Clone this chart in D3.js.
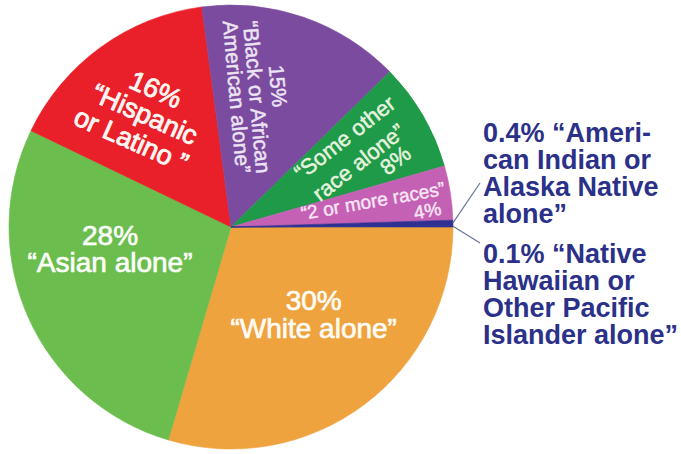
<!DOCTYPE html>
<html>
<head>
<meta charset="utf-8">
<script src="https://cdn.jsdelivr.net/npm/d3@7"></script>
<style>
  body { margin: 0; background: #fff; }
  svg { display: block; font-family: "Liberation Sans", Arial, Helvetica, sans-serif; }
</style>
</head>
<body>
<div id="chart"></div>
<script>
// data
const categories = ["White alone", "Asian alone", "Hispanic or Latino", "Black or African American alone",
  "Some other race alone", "2 or more races", "American Indian or Alaska Native alone",
  "Native Hawaiian or Other Pacific Islander alone"];
const shares = [30, 28, 16, 15, 8, 4, 0.4, 0.1];
const colors = ["#efa33f", "#6bbd4e", "#e91f29", "#7a4b9f", "#1e9a49", "#c461b4", "#2e3192", "#2e3192"];

// label text, one array of lines per slice
const labelLines = [
  ["30%", "“White alone”"],
  ["28%", "“Asian alone”"],
  ["16%", "“Hispanic", "or Latino ”"],
  ["15%", "“Black or African", "American alone”"],
  ["“Some other", "race alone”", "8%"],
  ["“2 or more races”", "4%"],
  ["0.4% “Ameri-", "can Indian or", "Alaska Native", "alone”"],
  ["0.1% “Native", "Hawaiian or", "Other Pacific", "Islander alone”"]
];

const W = 681, H = 454;
const cx = 231, cy = 227, R = 222;

// where each inside label sits: angle shift from slice middle (deg), radius fraction, rotation,
// font size, colour, and per-line offsets [u, v] in the rotated frame
const inside = [
  { da: -6.8, rf: 0.54, rot: 0, size: 28, sw: 0.7, fill: "#fdfbf5", off: [[0, -14], [0, 14]] },
  { da: 14.2, rf: 0.553, rot: 0, size: 28, sw: 0.7, fill: "#fbfdf8", off: [[0, -13], [0, 14]] },
  { da: -1.4, rf: 0.64, rot: 24, size: 27, sw: 0.9, fill: "#fff6f2", off: [[0, -27], [0, 0], [-2, 29]] },
  { da: -7.8, rf: 0.597, rot: 85, size: 21, sw: 0.5, fill: "#ece3f3", off: [[-9, -22], [0, 0], [-2, 20]] },
  { da: -2.4, rf: 0.645, rot: -38, size: 22, sw: 0.5, fill: "#e6f3df", off: [[2, -14], [-2, 14], [28, 35]] },
  { da: -1.6, rf: 0.65, rot: -10, size: 19, sw: 0.4, fill: "#f8e6f4", off: [[0, 0], [52, 19]] }
];

const svg = d3.select("#chart").append("svg").attr("width", W).attr("height", H);
const g = svg.append("g").attr("transform", `translate(${cx},${cy})`);

const pie = d3.pie().sort(null).value((d) => d)
  .startAngle(Math.PI / 2).endAngle(Math.PI / 2 + 2 * Math.PI);
const arcs = pie(shares);
const arc = d3.arc().innerRadius(0).outerRadius(R);

g.selectAll("path.slice").data(arcs).join("path")
  .attr("class", "slice")
  .attr("d", arc)
  .attr("fill", (d, i) => colors[i])
  .attr("stroke", (d, i) => colors[i]).attr("stroke-width", 0.6);

const rad = (deg) => (deg * Math.PI) / 180;

// labels inside the pie
inside.forEach((L, i) => {
  const a = (arcs[i].startAngle + arcs[i].endAngle) / 2 + rad(L.da);
  const r = R * L.rf;
  const lg = g.append("g")
    .attr("transform", `translate(${r * Math.sin(a)},${-r * Math.cos(a)}) rotate(${L.rot})`);
  labelLines[i].forEach((t, k) => {
    lg.append("text")
      .attr("x", L.off[k][0]).attr("y", L.off[k][1]).attr("dy", "0.35em")
      .attr("text-anchor", "middle")
      .attr("font-size", L.size)
      .attr("fill", L.fill)
      .attr("stroke", L.fill).attr("stroke-width", L.sw)
      .text(t);
  });
});

// the two thin slices get labels outside with leader lines
const outX = R + 30;
const outer = [
  { i: 6, base: -85, lead: -44 },
  { i: 7, base: 36, lead: 16 }
];
const lineH = 27;
outer.forEach((o) => {
  const a = (arcs[o.i].startAngle + arcs[o.i].endAngle) / 2;
  g.append("line")
    .attr("x1", R * Math.sin(a)).attr("y1", -R * Math.cos(a))
    .attr("x2", outX - 3).attr("y2", o.lead)
    .attr("stroke", "#6a739e").attr("stroke-width", 1.2);
  const t = g.append("text")
    .attr("x", outX).attr("y", o.base)
    .attr("font-size", 27).attr("font-weight", "bold").attr("fill", "#2b3188");
  labelLines[o.i].forEach((s, k) => {
    t.append("tspan").attr("x", outX).attr("y", o.base + k * lineH).text(s);
  });
});
</script>
</body>
</html>
